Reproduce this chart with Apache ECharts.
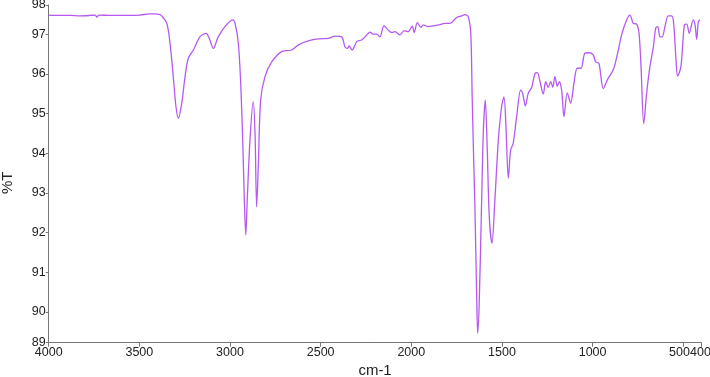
<!DOCTYPE html>
<html><head><meta charset="utf-8">
<script src="https://cdn.jsdelivr.net/npm/echarts@6/dist/echarts.min.js"></script>
<style>html,body{margin:0;padding:0;background:#fff}#c{width:710px;height:377px}</style>
</head><body><div id="c"></div>
<script>
// Wavenumber (cm-1) and transmittance (%T)
var wavenumbers = [4000,3938,3882,3827,3772,3745,3734,3723,3662,3552,3496,3441,3414,3386,3377,3349,3331,3313,3298,3285,3266,3248,3230,3202,3166,3132,3114,3092,3065,3028,2985,2972,2954,2941,2930,2921,2913,2905,2890,2872,2862,2853,2844,2831,2807,2770,2715,2660,2623,2568,2513,2458,2421,2384,2366,2351,2344,2326,2301,2274,2255,2228,2210,2191,2173,2151,2127,2108,2090,2062,2040,2017,1995,1984,1967,1948,1934,1906,1851,1814,1787,1750,1722,1704,1686,1672,1664,1658,1649,1639,1634,1625,1612,1603,1592,1581,1570,1555,1539,1520,1502,1489,1478,1465,1452,1438,1419,1397,1386,1371,1355,1336,1318,1305,1290,1272,1259,1245,1231,1220,1208,1195,1184,1171,1158,1140,1121,1103,1085,1064,1042,1015,996,983,965,941,914,886,862,840,812,794,776,757,744,733,718,702,684,665,652,641,628,616,601,583,564,553,540,531,513,494,481,467,445,435,426,417,408];
var transmittance = [97.48,97.47,97.47,97.46,97.47,97.48,97.43,97.48,97.47,97.47,97.48,97.51,97.51,97.49,97.46,97.28,96.78,95.93,95.17,94.88,95.26,95.93,96.39,96.60,96.93,97.02,96.89,96.64,96.93,97.19,97.36,97.27,96.77,95.76,94.33,92.82,91.94,92.82,94.33,95.30,94.51,92.65,93.66,95.34,95.93,96.30,96.56,96.60,96.73,96.83,96.88,96.89,96.95,96.93,96.68,96.64,96.70,96.60,96.81,96.85,96.93,97.05,97.00,97.00,96.93,97.21,97.10,97.04,97.06,96.98,97.09,97.06,97.20,97.04,97.29,97.17,97.23,97.19,97.23,97.27,97.27,97.42,97.46,97.49,97.44,97.02,95.34,94.20,92.60,90.30,89.46,90.30,92.82,94.51,95.34,94.08,92.40,91.73,92.82,94.33,95.17,95.42,94.67,93.37,94.08,94.25,94.92,95.59,95.51,95.19,95.51,95.66,96.01,96.03,95.80,95.49,95.80,95.66,95.80,95.66,95.93,95.69,95.80,95.59,94.92,95.52,95.26,95.76,96.14,96.14,96.52,96.53,96.47,96.30,96.26,95.63,95.89,96.10,96.52,96.98,97.36,97.48,97.27,97.25,97.02,96.18,94.74,95.51,96.18,96.68,97.15,97.19,96.93,96.93,97.19,97.46,97.46,97.27,96.35,95.94,96.18,97.23,97.25,97.02,97.36,97.23,96.87,97.31,97.36];
var xMin = 400, xMax = 4000;
var yMin = 89.227, yMax = 97.733;
var xName = 'cm-1', yName = '%T';

var points = wavenumbers.map(function (w, i) { return [w, transmittance[i]]; });
var FONT = '"Liberation Sans", Arial, sans-serif';
var labelStyle = {fontFamily: FONT, fontSize: 12.5, color: '#222', margin: 3, showMinLabel: true, showMaxLabel: true, hideOverlap: false};
var chart = echarts.init(document.getElementById('c'), null, {renderer: 'canvas'});
chart.setOption({
  animation: false,
  backgroundColor: '#ffffff',
  grid: {left: 48.7, right: 8.6, top: 5, bottom: 34.3, containLabel: false, outerBoundsMode: 'none'},
  xAxis: [{
    type: 'value', min: xMin, max: xMax, inverse: true, splitNumber: 7,
    name: xName, nameLocation: 'middle', nameGap: 14,
    nameTextStyle: {fontFamily: FONT, fontSize: 15, color: '#222'},
    axisLine: {show: true, onZero: false, lineStyle: {color: '#777', width: 1}},
    axisTick: {show: true, length: 4, lineStyle: {color: '#777'}},
    axisLabel: Object.assign({}, labelStyle, {
      formatter: function (v) {
        if (v === xMin) return '';
        if (v === 500) return '{s|500}';
        return String(Math.round(v));
      },
      rich: {s: {fontFamily: FONT, fontSize: 12.5, color: '#222', padding: [0, 7.6, 0, 0]}}
    }),
    splitLine: {show: false}
  }, {
    type: 'value', min: xMin, max: xMax, inverse: true, splitNumber: 7, position: 'bottom', offset: 0,
    axisLine: {show: false}, axisTick: {show: false},
    axisLabel: Object.assign({}, labelStyle, {
      formatter: function (v) { return v === xMin ? '{e|' + v + '}' : ''; },
      rich: {e: {fontFamily: FONT, fontSize: 12.5, color: '#222', padding: [0, 2, 0, 0]}}
    }),
    splitLine: {show: false}
  }],
  yAxis: {
    type: 'value', min: yMin, max: yMax, splitNumber: 9,
    name: yName, nameLocation: 'middle', nameGap: 33, nameRotate: 90,
    nameTextStyle: {fontFamily: FONT, fontSize: 15, color: '#222', padding: [0, 18, 0, 0]},
    axisLine: {show: true, onZero: false, lineStyle: {color: '#777', width: 1}},
    axisTick: {show: true, length: 3, lineStyle: {color: '#777'}},
    axisLabel: Object.assign({}, labelStyle, {formatter: function (v) { return String(Math.round(v)); }}),
    splitLine: {show: false}
  },
  series: [{
    type: 'line', data: points, showSymbol: false, smooth: 0.3, xAxisIndex: 0,
    lineStyle: {color: '#b45af2', width: 1.3},
    clip: true
  }]
});
</script></body></html>
